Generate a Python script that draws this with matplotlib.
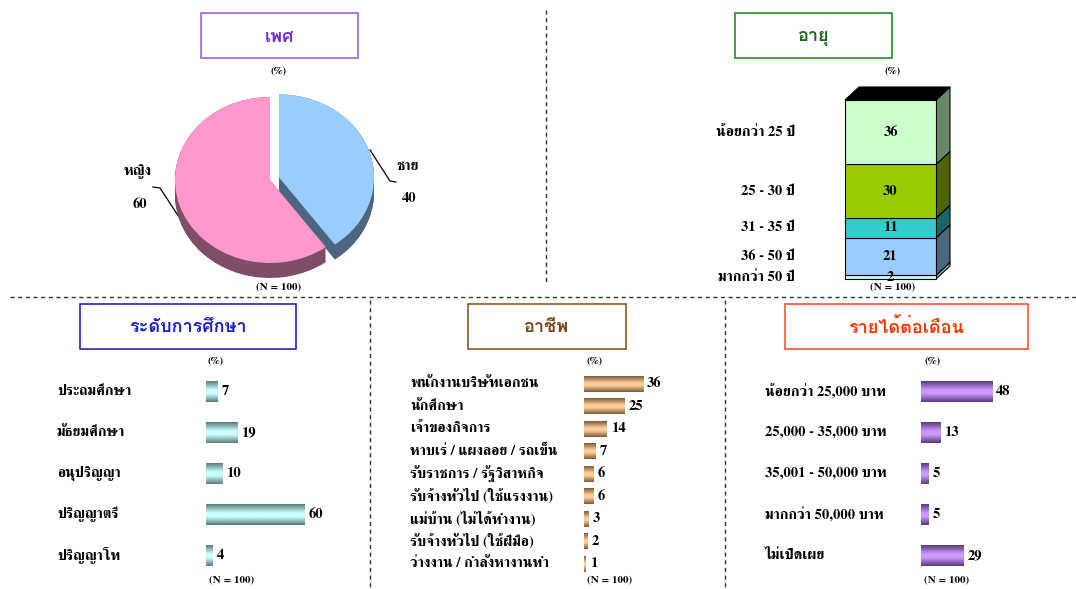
import matplotlib
matplotlib.use("Agg")
import matplotlib.pyplot as plt
import numpy as np
from matplotlib.colors import LinearSegmentedColormap
from matplotlib.patches import Polygon, Rectangle

# ---- data ----
sex_labels = ["ชาย", "หญิง"]
sex_values = [40, 60]

age_labels = ["มากกว่า 50 ปี", "36 - 50 ปี", "31 - 35 ปี", "25 - 30 ปี", "น้อยกว่า 25 ปี"]
age_values = [2, 21, 11, 30, 36]

edu_labels = ["ประถมศึกษา", "มัธยมศึกษา", "อนุปริญญา", "ปริญญาตรี", "ปริญญาโท"]
edu_values = [7, 19, 10, 60, 4]

job_labels = ["พนักงานบริษัทเอกชน", "นักศึกษา", "เจ้าของกิจการ", "หาบเร่ / แผงลอย / รถเข็น",
              "รับราชการ / รัฐวิสาหกิจ", "รับจ้างทั่วไป (ใช้แรงงาน)", "แม่บ้าน (ไม่ได้ทำงาน)",
              "รับจ้างทั่วไป (ใช้ฝีมือ)", "ว่างงาน / กำลังหางานทำ"]
job_values = [36, 25, 14, 7, 6, 6, 3, 2, 1]

inc_labels = ["น้อยกว่า 25,000 บาท", "25,000 - 35,000 บาท", "35,001 - 50,000 บาท",
              "มากกว่า 50,000 บาท", "ไม่เปิดเผย"]
inc_values = [48, 13, 5, 5, 29]

n_text = "(N = 100)"

plt.rcParams['font.family'] = ['FreeSerif', 'Liberation Serif', 'DejaVu Sans']
plt.rcParams['font.weight'] = 'bold'
TITLE_FONT = ['Loma', 'Noto Sans Thai Looped', 'DejaVu Sans']

W, H = 1076, 589
fig = plt.figure(figsize=(W / 100, H / 100), dpi=100)


def px_rect(x0, y0, x1, y1):
    return [x0 / W, 1 - y1 / H, (x1 - x0) / W, (y1 - y0) / H]


# background layer for frames, dividers and notes
bg = fig.add_axes([0, 0, 1, 1])
bg.set_xlim(0, W)
bg.set_ylim(H, 0)
bg.axis("off")

dash = dict(color="#333333", lw=1.0, ls=(0, (3, 2.5)))
bg.plot([10, W], [297, 297], **dash)
bg.plot([546, 546], [10, 285], **dash)
bg.plot([370, 370], [300, H], **dash)
bg.plot([725, 725], [300, H], **dash)


def title_box(x0, y0, x1, y1, text, edge, color):
    bg.add_patch(Rectangle((x0, y0), x1 - x0, y1 - y0, fill=False, ec=edge, lw=1.2))
    bg.text((x0 + x1) / 2, (y0 + y1) / 2 + 1, text, ha="center", va="center",
            fontsize=13, color=color, fontweight="bold", family=TITLE_FONT)


def note(x, y, text):
    bg.text(x, y, text, ha="center", va="center", fontsize=8, fontweight="bold")


title_box(201, 13, 358, 58, "เพศ", "#9966dd", "#6a2bd0")
title_box(735, 13, 892, 58, "อายุ", "#2e8b2e", "#1a661a")
title_box(80, 304, 296, 349, "ระดับการศึกษา", "#2222cc", "#1a1acc")
title_box(468, 304, 626, 349, "อาชีพ", "#8b5a2b", "#7a4414")
title_box(785, 304, 1028, 349, "รายได้ต่อเดือน", "#ff5533", "#ff3300")

for x, y in [(279, 72), (893, 72), (216, 362), (595, 362), (933, 362)]:
    note(x, y, "(%)")
for x, y in [(279, 288), (893, 288), (232, 581), (610, 581), (947, 581)]:
    note(x, y, n_text)

# ---- pie (sex) ----
cx, cy, rx, ry = 270, 180, 95, 83
axp = fig.add_axes(px_rect(cx - 1.3 * rx, cy - 1.3 * ry, cx + 1.3 * rx, cy + 1.3 * ry))
pie_top = ["#99ccff", "#ff99cc"]
pie_side = ["#4d6680", "#804d66"]
explode = [0.1, 0]
depth = 15 / ry
for d in np.linspace(depth, 0, 16):
    axp.pie(sex_values, colors=pie_side, startangle=90, counterclock=False,
            explode=explode, center=(0, -d), wedgeprops=dict(linewidth=0))
axp.pie(sex_values, colors=pie_top, startangle=90, counterclock=False,
        explode=explode, wedgeprops=dict(linewidth=0))
axp.set_aspect("auto")
axp.set_xlim(-1.3, 1.3)
axp.set_ylim(-1.3, 1.3)
axp.axis("off")

bg.plot([370, 390, 396], [150, 181, 182], color="black", lw=0.9)
bg.plot([153, 160, 179], [187, 188, 217], color="black", lw=0.9)
bg.text(408, 166, sex_labels[0], ha="center", va="center", fontsize=10.5)
bg.text(409, 198, str(sex_values[0]), ha="center", va="center", fontsize=10.5)
bg.text(138, 172, sex_labels[1], ha="center", va="center", fontsize=10.5)
bg.text(140, 205, str(sex_values[1]), ha="center", va="center", fontsize=10.5)

# ---- 3D stacked column (age) ----
axa = fig.add_axes(px_rect(845, 100, 936, 279))
axa.set_xlim(-0.5, 0.5)
axa.set_ylim(0, 100)
axa.axis("off")
age_front = ["#ccffff", "#99ccff", "#33cccc", "#99cc00", "#ccffcc"]
age_side = ["#88bbbb", "#4d6680", "#1a6666", "#4d6600", "#668866"]
dx, dy = 14 / 91, 13 / 1.79
bottoms = np.concatenate([[0], np.cumsum(age_values)[:-1]])
bars = axa.bar(0, age_values, bottom=bottoms, width=1, color=age_front,
               edgecolor="black", linewidth=0.8, clip_on=False, zorder=2)
for b, sc in zip(bars, age_side):
    x1 = b.get_x() + b.get_width()
    y0, y1 = b.get_y(), b.get_y() + b.get_height()
    axa.add_patch(Polygon([(x1, y0), (x1 + dx, y0 + dy), (x1 + dx, y1 + dy), (x1, y1)],
                          closed=True, fc=sc, ec="black", lw=0.8, clip_on=False))
top = bottoms[-1] + age_values[-1]
axa.add_patch(Polygon([(-0.5, top), (-0.5 + dx, top + dy), (0.5 + dx, top + dy), (0.5, top)],
                      closed=True, fc="black", ec="black", lw=0.8, clip_on=False))
for b, lab, v in zip(bars, age_labels, age_values):
    ym = b.get_y() + b.get_height() / 2
    axa.text(0, ym, str(v), ha="center", va="center", fontsize=10.5, zorder=3, clip_on=False)
    axa.text(-0.5 - 50 / 91, ym, lab, ha="right", va="center", fontsize=10.5, clip_on=False)


# ---- horizontal gradient bars ----
def grad_cmap(dark, light):
    return LinearSegmentedColormap.from_list("g", [(0, dark), (0.42, light), (0.6, light), (1, dark)])


def barh_panel(labels, values, cmap, x0, ppu, y_top, step, bar_h, label_x, fs):
    n = len(labels)
    ax = fig.add_axes(px_rect(x0, y_top, x0 + ppu * 100, y_top + step * n))
    h = bar_h / step
    bars = ax.barh(range(n), values, height=h, color="none")
    grad = np.linspace(0, 1, 64).reshape(-1, 1)
    for b in bars:
        x_, y_ = b.get_x(), b.get_y()
        ax.imshow(grad, extent=(x_, x_ + b.get_width(), y_ + h, y_), cmap=cmap,
                  aspect="auto", origin="upper", interpolation="bilinear")
    for i, (lab, v) in enumerate(zip(labels, values)):
        ax.text(v + 4 / ppu, i, str(v), ha="left", va="center", fontsize=fs, clip_on=False)
        ax.text((label_x - x0) / ppu, i, lab, ha="left", va="center", fontsize=fs, clip_on=False)
    ax.set_xlim(0, 100)
    ax.set_ylim(n - 0.5, -0.5)
    ax.axis("off")
    return ax


barh_panel(edu_labels, edu_values, grad_cmap("#5a7c7c", "#ccffff"),
           206, 1.65, 370.8, 41, 20.7, 57, 10.5)
barh_panel(job_labels, job_values, grad_cmap("#7a5a3a", "#ffcc99"),
           584, 1.64, 372.5, 22.5, 15.7, 410, 10.5)
barh_panel(inc_labels, inc_values, grad_cmap("#5a3a7a", "#cc99ff"),
           921, 1.48, 370.8, 41, 20.7, 765, 10.5)

fig.savefig("out.png", dpi=100)
